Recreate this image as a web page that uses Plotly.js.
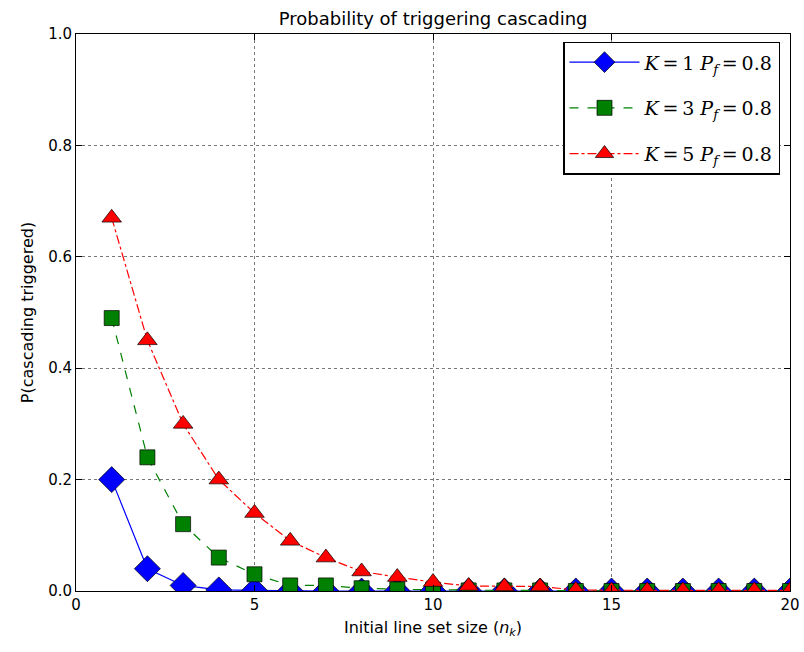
<!DOCTYPE html>
<html><head><meta charset="utf-8">
<script src="https://cdn.plot.ly/plotly-3.0.1.min.js"></script>
<style>body{margin:0;background:#fff}#chart{width:804px;height:652px}</style>
</head><body><div id="chart"></div>
<script>
const nk = [1,2,3,4,5,6,7,8,9,10,11,12,13,14,15,16,17,18,19,20];
const pK1 = [0.20,0.04,0.01,0.002,0.001,0,0,0,0,0,0,0,0,0,0,0,0,0,0,0];
const pK3 = [0.49,0.24,0.12,0.06,0.03,0.01,0.01,0.005,0.003,0.002,0.001,0.001,0.001,0,0,0,0,0,0,0];
const pK5 = [0.67,0.45,0.30,0.20,0.14,0.09,0.06,0.035,0.025,0.016,0.009,0.008,0.008,0.002,0.001,0.001,0.001,0.001,0.001,0.001];
const names = ['<i>K</i>\u2009=\u20091 <i>P<sub>f</sub></i>\u2009=\u20090.8','<i>K</i>\u2009=\u20093 <i>P<sub>f</sub></i>\u2009=\u20090.8','<i>K</i>\u2009=\u20095 <i>P<sub>f</sub></i>\u2009=\u20090.8'];

const mline = {color:'#000', width:0.7};
const traces = [
 {x:nk, y:pK1, name:names[0], legendgroup:'a', mode:'lines+markers', line:{color:'#0000ff', width:1.2, dash:'solid'},
  marker:{symbol:'diamond', size:20, color:'#0000ff', line:mline}},
 {x:nk, y:pK3, name:names[1], legendgroup:'b', mode:'lines+markers', line:{color:'#008000', width:1.2, dash:'dash'},
  marker:{symbol:'square', size:15, color:'#008000', line:mline}},
 {x:nk, y:pK5, name:names[2], legendgroup:'c', mode:'lines+markers', line:{color:'#ff0000', width:1.2, dash:'dashdot'},
  marker:{symbol:'triangle-up', size:17, color:'#ff0000', line:mline}}
];
const axCommon = {showline:true, mirror:'ticks', linecolor:'#000', linewidth:1, ticks:'inside', ticklen:6, tickcolor:'#000',
  showgrid:true, gridcolor:'#777', griddash:'dot', gridwidth:1, zeroline:false, tickfont:{family:'DejaVu Sans', size:15, color:'#000'}};
const layout = {
 width:804, height:652, paper_bgcolor:'#fff', plot_bgcolor:'#fff',
 margin:{l:76, r:14, t:34, b:61},
 font:{family:'DejaVu Sans', color:'#000'},
 title:{text:'Probability of triggering cascading', font:{size:18, family:'DejaVu Sans'}, x:0.5387, xanchor:'center', y:0.972, yanchor:'middle'},
 xaxis:Object.assign({}, axCommon, {range:[0,20], tickvals:[0,5,10,15,20], ticktext:['0','5','10','15','20'],
   title:{text:'Initial line set size (<i>n<sub>k</sub></i>)', font:{size:16}, standoff:8}}),
 yaxis:Object.assign({}, axCommon, {range:[0,1], tickvals:[0,0.2,0.4,0.6,0.8,1.0], ticktext:['0.0','0.2','0.4','0.6','0.8','1.0'],
   title:{text:'P(cascading triggered)', font:{size:16}, standoff:10}}),
 legend:{x:0.986, y:0.986, xanchor:'right', yanchor:'top', bordercolor:'#000', borderwidth:1.5, bgcolor:'#fff',
   font:{family:'DejaVu Serif', size:19}, itemwidth:70, tracegroupgap:18},
 showlegend:true
};
Plotly.newPlot('chart', traces, layout, {displayModeBar:false, staticPlot:true});
</script></body></html>
